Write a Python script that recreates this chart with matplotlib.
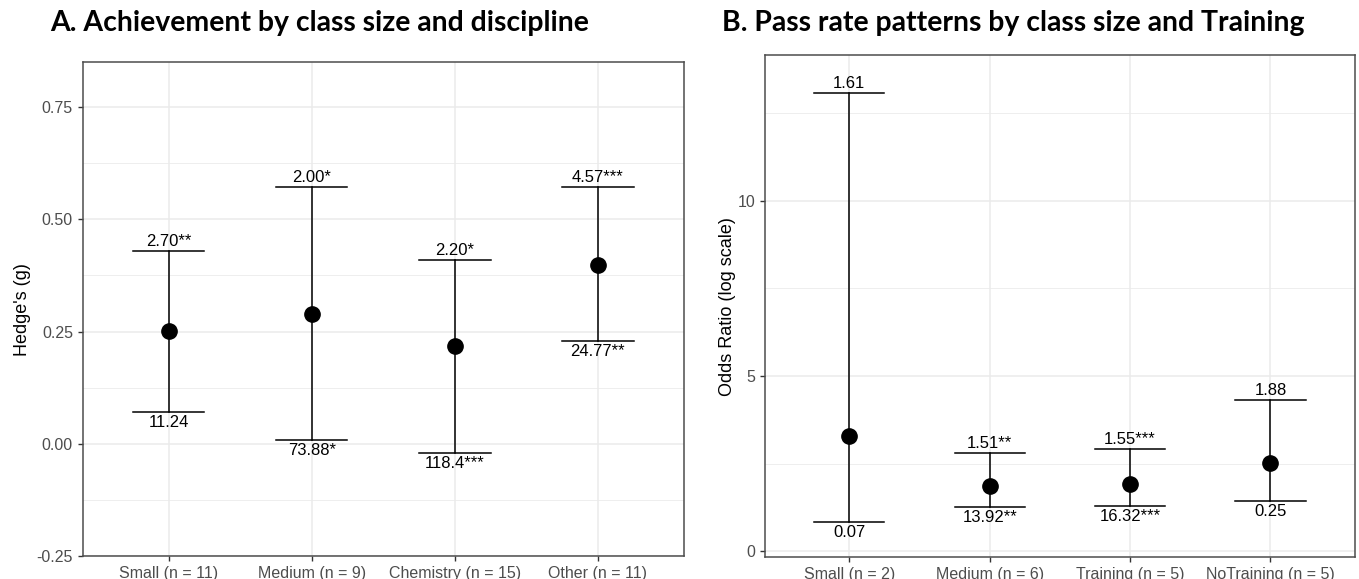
import matplotlib
matplotlib.use("Agg")
import matplotlib.pyplot as plt
from matplotlib.ticker import MultipleLocator

# ---- Panel A data ----
a_categories = ["Small (n = 11)", "Medium (n = 9)", "Chemistry (n = 15)", "Other (n = 11)"]
a_est = [0.251, 0.289, 0.218, 0.398]
a_low = [0.071, 0.009, -0.020, 0.229]
a_high = [0.430, 0.572, 0.410, 0.572]
a_upper_labels = ["2.70**", "2.00*", "2.20*", "4.57***"]
a_lower_labels = ["11.24", "73.88*", "118.4***", "24.77**"]

# ---- Panel B data ----
b_categories = ["Small (n = 2)", "Medium (n = 6)", "Training (n = 5)", "NoTraining (n = 5)"]
b_est = [3.29, 1.86, 1.91, 2.51]
b_low = [0.83, 1.26, 1.29, 1.43]
b_high = [13.09, 2.80, 2.91, 4.31]
b_upper_labels = ["1.61", "1.51**", "1.55***", "1.88"]
b_lower_labels = ["0.07", "13.92**", "16.32***", "0.25"]

plt.rcParams['font.family'] = ['Liberation Sans', 'DejaVu Sans']

W, H = 1359, 579
fig = plt.figure(figsize=(W / 100, H / 100), dpi=100)

def fx(px):
    return px / W

def fy(py):
    return 1 - py / H

axA = fig.add_axes([fx(82.7), fy(556.3), fx(683.7 - 82.7), (556.3 - 62) / H])
axB = fig.add_axes([fx(765), fy(557), fx(1354.7 - 765), (557 - 55.3) / H])

def style(ax):
    ax.set_facecolor("white")
    for s in ax.spines.values():
        s.set_color("#4d4d4d")
        s.set_linewidth(1.1)
    ax.grid(True, which="major", color="#EBEBEB", linewidth=1.1, zorder=0)
    ax.grid(True, which="minor", axis="y", color="#EBEBEB", linewidth=0.6, zorder=0)
    ax.set_axisbelow(True)
    ax.tick_params(axis="both", which="major", colors="#333333", labelsize=11.5,
                   length=3.5, width=1.0, color="#333333")
    ax.tick_params(axis="both", which="minor", length=0)
    for lab in ax.get_xticklabels() + ax.get_yticklabels():
        lab.set_color("#4d4d4d")

def draw(ax, cats, est, low, high, up_labels, lo_labels):
    x = list(range(1, len(cats) + 1))
    for i in range(len(cats)):
        ax.plot([x[i], x[i]], [low[i], high[i]], color="black", lw=1.1, zorder=3)
        ax.plot([x[i] - 0.25, x[i] + 0.25], [high[i], high[i]], color="black", lw=1.1, zorder=3)
        ax.plot([x[i] - 0.25, x[i] + 0.25], [low[i], low[i]], color="black", lw=1.1, zorder=3)
        ax.annotate(up_labels[i], (x[i], high[i]), xytext=(0, 1.5), textcoords="offset points",
                    ha="center", va="bottom", fontsize=12, color="black")
        ax.annotate(lo_labels[i], (x[i], low[i]), xytext=(0, -2), textcoords="offset points",
                    ha="center", va="top", fontsize=12, color="black")
    ax.plot(x, est, "o", color="black", markersize=11, zorder=4)
    ax.set_xticks(x)
    ax.set_xticklabels(cats)
    ax.set_xlim(0.4, len(cats) + 0.6)

draw(axA, a_categories, a_est, a_low, a_high, a_upper_labels, a_lower_labels)
axA.set_ylim(-0.25, 0.85)
axA.yaxis.set_major_locator(MultipleLocator(0.25))
axA.yaxis.set_minor_locator(MultipleLocator(0.125))
axA.set_yticks([-0.25, 0.0, 0.25, 0.5, 0.75])
axA.set_yticklabels(["-0.25", "0.00", "0.25", "0.50", "0.75"])
axA.set_ylabel("Hedge's (g)", fontsize=13, color="black")
axA.yaxis.set_label_coords((31 - 82.7) / 601.0, 0.5)
style(axA)

draw(axB, b_categories, b_est, b_low, b_high, b_upper_labels, b_lower_labels)
axB.set_ylim(-0.17, 14.16)
axB.set_yticks([0, 5, 10])
axB.yaxis.set_minor_locator(MultipleLocator(2.5))
axB.set_ylabel("Odds Ratio (log scale)", fontsize=13, color="black")
axB.yaxis.set_label_coords((736 - 765) / 589.7, 0.5)
style(axB)

fig.text(fx(50), fy(23), "A. Achievement by class size and discipline", fontsize=20.4,
         fontweight="bold", family=["Lato", "DejaVu Sans"], ha="left", va="center")
fig.text(fx(722), fy(23), "B. Pass rate patterns by class size and Training", fontsize=20.4,
         fontweight="bold", family=["Lato", "DejaVu Sans"], ha="left", va="center")

fig.savefig("out.png", dpi=100, facecolor="white")
